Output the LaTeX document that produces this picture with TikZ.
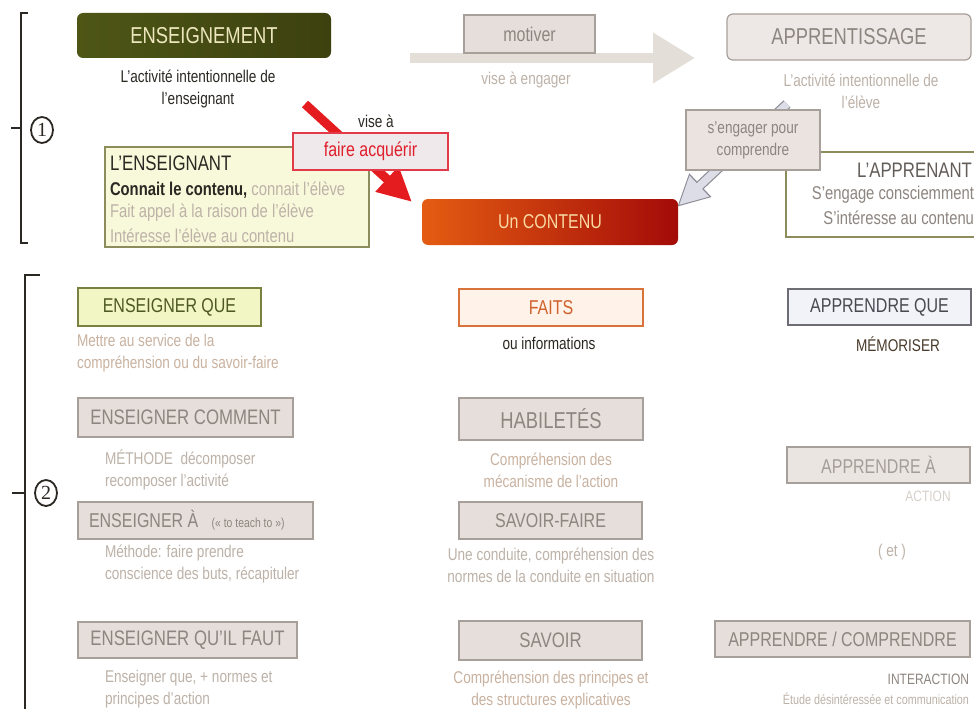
\documentclass[tikz,border=0pt]{standalone}
\usepackage{fontspec}
\setmainfont[FakeStretch=0.8]{Liberation Sans}
\newfontfamily\numfont{Liberation Serif}
\usetikzlibrary{arrows.meta,shapes.geometric}

\definecolor{ink}{HTML}{2B2823}
\definecolor{olivefill}{HTML}{4E5616}
\definecolor{olivedark}{HTML}{3C410F}
\definecolor{olivetext}{HTML}{EDE7BE}
\definecolor{boxfill}{HTML}{E6DEDA}
\definecolor{boxedge}{HTML}{A79F99}
\definecolor{boxtext}{HTML}{8D857F}
\definecolor{lighttext}{HTML}{BDB2A8}
\definecolor{tantext}{HTML}{C9B2A0}
\definecolor{arrowgray}{HTML}{E3DED8}
\definecolor{redarrow}{HTML}{E41B1F}
\definecolor{redtext}{HTML}{E0202C}
\definecolor{redframe}{HTML}{E23A48}
\definecolor{pinkfill}{HTML}{EFE9EC}
\definecolor{yellowfill}{HTML}{F8F8DA}
\definecolor{yellowedge}{HTML}{8C8C5C}
\definecolor{greenfill}{HTML}{F1F6C4}
\definecolor{greenedge}{HTML}{7A8040}
\definecolor{greentext}{HTML}{4E5822}
\definecolor{peachfill}{HTML}{FFF2E8}
\definecolor{peachedge}{HTML}{D8733C}
\definecolor{peachtext}{HTML}{D0602C}
\definecolor{lavfill}{HTML}{F2F2F9}
\definecolor{lavedge}{HTML}{6E6C74}
\definecolor{lavtext}{HTML}{4A4850}
\definecolor{orangeL}{HTML}{E45C12}
\definecolor{redR}{HTML}{A30B08}
\definecolor{contenutext}{HTML}{F9D8A2}
\definecolor{hollowfill}{HTML}{DCDDE6}
\definecolor{hollowedge}{HTML}{8F8E98}

\newcommand\fsz[1]{\fontsize{#1}{22}\selectfont}

\begin{document}
\begin{tikzpicture}[x=1pt,y=-1pt,
  every node/.style={inner sep=0pt, outer sep=0pt},
  gbox/.style={draw=boxedge, fill=boxfill, text=boxtext, line width=1.2pt, font=\fsz{20}},
  small/.style={font=\fsz{17}, align=center},
  lsmall/.style={font=\fsz{17}, align=left, anchor=west},
  numring/.style={ellipse, draw=ink, line width=1.8pt, minimum width=22pt, minimum height=26pt, font=\numfont\fontsize{20}{20}\selectfont, text=ink},
  brace/.style={draw=ink, line width=1.3pt}]

\clip (0,0) rectangle (974,709);
\fill[white] (0,0) rectangle (974,709);

% ---- section markers
\draw[brace] (28,13) -- (21,13) -- (21,243) -- (28,243);
\draw[brace] (11,128) -- (21,128);
\node[numring] (n1) at (42,130) {1};
\draw[brace] (40,275) -- (25,275) -- (25,712);
\draw[brace] (12,493) -- (25,493);
\node[numring] (n2) at (46,493) {2};

% ---- part 1: teaching and learning
\node[rounded corners=6pt, left color=olivefill, right color=olivedark, text=olivetext,
      minimum width=254pt, minimum height=45pt, font=\fsz{23}] (ens) at (204,35.5) {ENSEIGNEMENT};
\node[small, text=ink] (ensdef) at (198,89) {L'activité intentionnelle de\\l'enseignant};

\coordinate (motail) at (410,58);
\coordinate (motip) at (695,58);
\draw[arrowgray, line width=10pt, -{Triangle[length=42pt,width=48pt]}] (motail) -- (motip);
\node[gbox, minimum width=131pt, minimum height=38pt] (motiver) at (529.5,34) {motiver};
\node[small, text=lighttext] (engager) at (526,80) {vise à engager};

\node[draw=boxedge, fill=boxfill!70!white, text=boxtext, line width=1.2pt, rounded corners=6pt,
      minimum width=244pt, minimum height=46pt, font=\fsz{23}] (app) at (849,37) {APPRENTISSAGE};
\node[small, text=lighttext] (appdef) at (861,91) {L'activité intentionnelle de\\l'élève};

% teacher box
\node[draw=yellowedge, fill=yellowfill, line width=1.2pt, minimum width=264pt, minimum height=100pt] (teacher) at (237,197) {};
\node[anchor=west, font=\fsz{21}, text=ink] (tname) at (110,163) {L'ENSEIGNANT};
\node[anchor=west, font=\fsz{18.5}] (t1) at (110,190) {\textcolor{ink}{\bfseries Connait le contenu,} \textcolor{lighttext}{connait l'élève}};
\node[anchor=west, font=\fsz{18.5}, text=lighttext] (t2) at (110,213) {Fait appel à la raison de l'élève};
\node[anchor=west, font=\fsz{18.5}, text=lighttext] (t3) at (110,236) {Intéresse l'élève au contenu};

% content box
\node[rounded corners=6pt, left color=orangeL, right color=redR, text=contenutext,
      minimum width=256pt, minimum height=46pt, font=\fsz{20}] (contenu) at (550,222) {Un CONTENU};

% red arrow towards the content
\coordinate (redtail) at (305,104);
\coordinate (redtip) at (412,202);
\draw[redarrow, line width=9pt, -{Triangle[length=34pt,width=32pt]}] (redtail) -- (redtip);
\node[small, text=ink] (visea) at (376,121) {vise à};
\node[draw=redframe, fill=pinkfill, text=redtext, line width=1.3pt, minimum width=155pt, minimum height=37pt, font=\fsz{20}] (faire) at (370.5,151.5) {faire acquérir};

% learner box
\node[draw=yellowedge, fill=white, line width=1.2pt, minimum width=204pt, minimum height=85pt] (learner) at (888,194.5) {};
\node[anchor=east, font=\fsz{21}, text=boxtext!70!black] (lname) at (972,170) {L'APPRENANT};
\node[anchor=east, font=\fsz{18.5}, text=boxtext] (l1) at (974,195) {S'engage consciemment};
\node[anchor=east, font=\fsz{18.5}, text=boxtext] (l2) at (974,218) {S'intéresse au contenu};

% hollow arrow from learning to content
\coordinate (gtail) at (787,104);
\coordinate (gtip) at (677,207);
\draw[hollowedge, line width=10pt, -{Triangle[length=32pt,width=30pt]}] (gtail) -- (gtip);
\draw[hollowfill, line width=7.6pt, shorten >=2.6pt, -{Triangle[length=28pt,width=26.5pt]}] (gtail) -- (gtip);
\node[gbox, fill=boxfill!85!white, font=\fsz{17}, align=center, minimum width=134pt, minimum height=60pt] (sengager) at (753,140) {s'engager pour\\comprendre};

% ---- part 2: kinds of teaching, content and learning
\node[draw=greenedge, fill=greenfill, text=greentext, line width=1.2pt, minimum width=183pt, minimum height=38pt, font=\fsz{20}] (eque) at (169.5,307) {ENSEIGNER QUE};
\node[lsmall, text=tantext] (equetxt) at (77,353) {Mettre au service de la\\compréhension ou du savoir-faire};

\node[gbox, minimum width=215pt, minimum height=39pt, font=\fsz{21}] (ecomment) at (185.5,417.5) {ENSEIGNER COMMENT};
\node[lsmall, text=lighttext] (ecomtxt) at (105,470) {MÉTHODE\ \ décomposer\\recomposer l'activité};

\node[gbox, minimum width=235pt, minimum height=37pt] (ea) at (195.5,520.5) {};
\node[anchor=west, font=\fsz{20}, text=boxtext] (ealabel) at (89,520.5) {ENSEIGNER À\ \ \ {\fsz{13}(« to teach to »)}};
\node[lsmall, text=lighttext] (eatxt) at (105,564) {Méthode: faire prendre\\conscience des buts, récapituler};

\node[gbox, minimum width=219pt, minimum height=36pt, font=\fsz{21}] (equil) at (187.5,640) {ENSEIGNER QU'IL FAUT};
\node[lsmall, text=lighttext] (equiltxt) at (105,689) {Enseigner que, + normes et\\principes d'action};

\node[draw=peachedge, fill=peachfill, text=peachtext, line width=1.2pt, minimum width=184pt, minimum height=37pt, font=\fsz{20}] (faits) at (551,307.5) {FAITS};
\node[small, text=ink] (faitstxt) at (549,343) {ou informations};

\node[gbox, minimum width=184pt, minimum height=42pt, font=\fsz{23}] (hab) at (551,419) {HABILETÉS};
\node[small, text=tantext] (habtxt) at (551,470.5) {Compréhension des\\mécanisme de l'action};

\node[gbox, minimum width=183pt, minimum height=37pt] (sf) at (550.5,520.5) {SAVOIR-FAIRE};
\node[small, text=lighttext] (sftxt) at (551,565) {Une conduite, compréhension des\\normes de la conduite en situation};

\node[gbox, minimum width=183pt, minimum height=39pt, font=\fsz{21}] (savoir) at (550.5,640.5) {SAVOIR};
\node[small, text=tantext] (savtxt) at (551,689.5) {Compréhension des principes et\\des structures explicatives};

\node[draw=lavedge, fill=lavfill, text=lavtext, line width=1.2pt, minimum width=183pt, minimum height=36pt, font=\fsz{20}] (aque) at (879.5,307) {APPRENDRE QUE};
\node[small, text=ink!80!brown] (memo) at (898,344) {MÉMORISER};

\node[gbox, fill=boxfill!80!white, text=boxtext!80!white, minimum width=183pt, minimum height=36pt] (aa) at (878.5,465) {APPRENDRE À};
\node[font=\fsz{15}, text=lighttext!60!white] (action) at (928,496) {ACTION};
\node[font=\fsz{17}, text=lighttext] (et) at (892,552) {( et )};

\node[gbox, minimum width=255pt, minimum height=36pt] (acomp) at (842.5,639) {APPRENDRE / COMPRENDRE};
\node[anchor=east, font=\fsz{15}, text=boxtext] (inter) at (969,679) {INTERACTION};
\node[anchor=east, font=\fsz{13.5}, text=lighttext] (etude) at (969,699) {Étude désintéressée et communication};

\end{tikzpicture}
\end{document}
